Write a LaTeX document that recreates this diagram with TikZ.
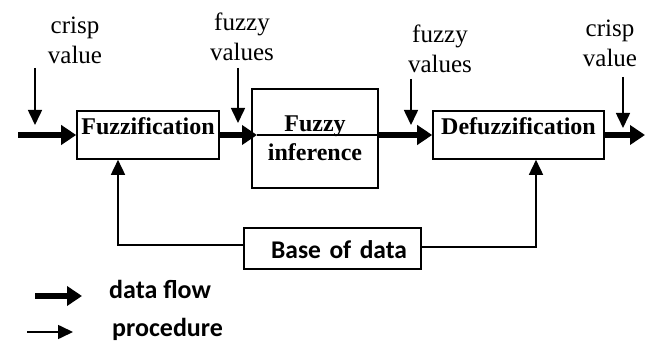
\documentclass[tikz,border=0pt]{standalone}
\usepackage{fontspec}
\setmainfont{Liberation Serif}
\newfontfamily\calfont{Carlito}
\usetikzlibrary{arrows.meta}

\begin{document}
\begin{tikzpicture}[x=1pt,y=-1pt,
  box/.style={draw,line width=1.6pt,inner sep=0pt},
  flow/.style={line width=5.5pt,-{Triangle[length=15pt,width=19pt]}},
  proc/.style={line width=1.6pt,-{Triangle[length=15pt,width=14pt]}},
  lbl/.style={font=\fontsize{25}{30}\selectfont,align=center,inner sep=0pt},
  key/.style={font=\calfont\bfseries\fontsize{26}{30}\selectfont,inner sep=0pt,anchor=base west}]
\useasboundingbox (0,0) rectangle (650,344);

% processing blocks
\node[box,font=\bfseries\fontsize{24}{28}\selectfont,minimum width=142pt,
      text height=24pt,text depth=24pt] (fuzz) at (148,135) {Fuzzification};
\node[box,font=\bfseries\fontsize{24}{29}\selectfont,align=center,
      minimum width=126pt,minimum height=99pt] (infer) at (315,138.5) {Fuzzy\\inference};
\node[box,font=\bfseries\fontsize{24}{28}\selectfont,minimum width=171pt,
      text height=24pt,text depth=24pt] (defuzz) at (518.5,135) {Defuzzification};
\node[box,font=\calfont\bfseries\fontsize{25.5}{30}\selectfont,text width=149pt,
      align=right,inner xsep=14pt,inner ysep=0pt,text height=31pt,text depth=10pt]
      (base) at (332.5,248.5) {Base of data};

% value labels
\node[lbl] (crispin)  at (75,40.5)  {crisp\\value};
\node[lbl] (fuzzyA)   at (242,37)   {fuzzy\\values};
\node[lbl] (fuzzyB)   at (440,49)   {fuzzy\\values};
\node[lbl] (crispout) at (610,43)   {crisp\\value};

% main data flow
\coordinate (in)   at (18,135);
\coordinate (mid1) at (257,135);
\coordinate (out)  at (645,135);
\draw[flow] (in) -- (fuzz.west);
\draw[flow] (fuzz.east) -- (mid1);
\draw[line width=1.6pt] (mid1) -- (infer.east |- mid1);
\draw[flow] (infer.east |- mid1) -- (defuzz.west);
\draw[flow] (defuzz.east) -- (out);

% value pointers
\coordinate (c1a) at (35,68);  \coordinate (c1b) at (35,125);
\coordinate (f1a) at (238,68); \coordinate (f1b) at (238,123);
\coordinate (f2a) at (411,79); \coordinate (f2b) at (411,125);
\coordinate (c2a) at (623,77); \coordinate (c2b) at (623,128);
\draw[proc] (c1a) -- (c1b);
\draw[proc] (f1a) -- (f1b);
\draw[proc] (f2a) -- (f2b);
\draw[proc] (c2a) -- (c2b);

% data base feedback
\coordinate (fbL) at (118,245);
\coordinate (fbR) at (536,247);
\draw[proc] (base.west |- fbL) -- (fbL) -- (fuzz.south -| fbL);
\draw[proc] (base.east |- fbR) -- (fbR) -- (defuzz.south -| fbR);

% legend
\coordinate (k1a) at (35,296); \coordinate (k1b) at (82,296);
\coordinate (k2a) at (27,332); \coordinate (k2b) at (73,332);
\draw[flow] (k1a) -- (k1b);
\draw[proc] (k2a) -- (k2b);
\node[key] (kflow) at (109,299) {data flow};
\node[key] (kproc) at (112,337) {procedure};
\end{tikzpicture}
\end{document}
